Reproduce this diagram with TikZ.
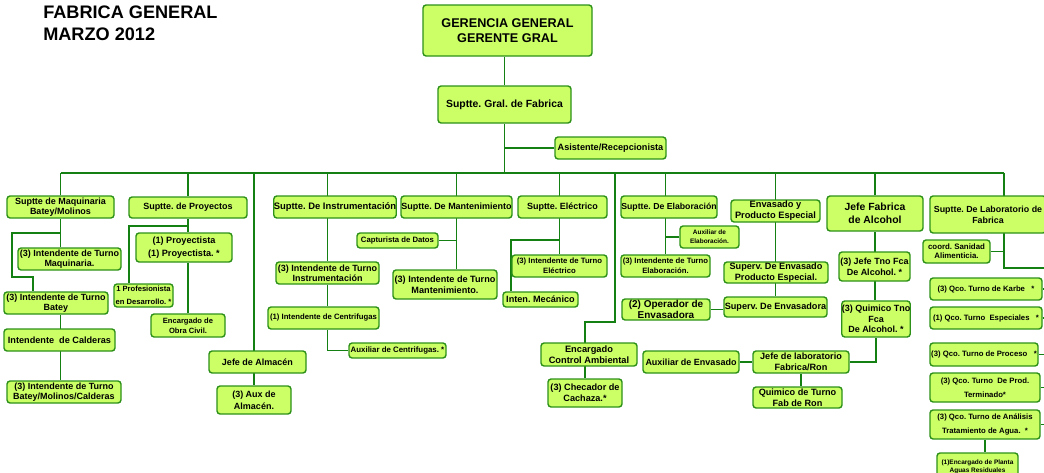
\documentclass[tikz,border=0pt]{standalone}
\usepackage{fontspec}
\setmainfont{Liberation Sans}
\usetikzlibrary{backgrounds}
\frenchspacing

\definecolor{cajafondo}{RGB}{204,255,102}
\definecolor{cajaborde}{RGB}{45,145,25}
\definecolor{linea}{RGB}{20,128,20}

\tikzset{
  puesto/.style={draw=cajaborde, fill=cajafondo, line width=1pt, rounded corners=2.2pt,
    align=center, inner sep=0pt, text=black, font=\bfseries\fontsize{6.4}{7.4}\selectfont},
  tam/.style 2 args={minimum width=#1*0.25mm, minimum height=#2*0.25mm},
  letra/.style 2 args={font=\bfseries\fontsize{#1}{#2}\selectfont},
  enlace/.style={draw=linea, line width=1.4pt},
}

\begin{document}
\begin{tikzpicture}[x=0.25mm, y=-0.25mm]
  \useasboundingbox (0,0) rectangle (1044,473);
  \clip (0,0) rectangle (1044,473);

  \node[anchor=north west, align=left, inner sep=0pt,
        font=\bfseries\fontsize{12.9}{15.6}\selectfont] (titulo) at (43,6) {FABRICA GENERAL\\MARZO 2012};

  \node[puesto, tam={169}{51}, letra={9}{10.7}] (gg) at (507.5,30.5) {GERENCIA GENERAL\\GERENTE GRAL};
  \node[puesto, tam={133}{37}, letra={7.4}{9}] (sgf) at (504.5,104.5) {Suptte. Gral. de Fabrica};
  \node[puesto, tam={111}{22}, letra={6.5}{7.4}] (asis) at (610.5,148) {Asistente/Recepcionista};

  % jefaturas
  \node[puesto, tam={107}{22}] (sm) at (60.5,207) {Suptte de Maquinaria\\Batey/Molinos};
  \node[puesto, tam={118}{21}] (sp) at (188,207.5) {Suptte. de Proyectos};
  \node[puesto, tam={118}{22}, letra={6.7}{7.4}] (si) at (335,207) {Suptte. De Instrumentación};
  \node[puesto, tam={111}{22}] (smt) at (456.5,207) {Suptte. De Mantenimiento};
  \node[puesto, tam={89}{22}] (se) at (562.5,207) {Suptte. Eléctrico};
  \node[puesto, tam={96}{22}, letra={6.2}{7.4}] (sel) at (669,207) {Suptte. De Elaboración};
  \node[puesto, tam={89}{22}, letra={6.6}{7.8}] (env) at (775.5,211) {Envasado y\\Producto Especial};
  \node[puesto, tam={96}{35}, letra={7.4}{9}] (jfa) at (875,213.5) {Jefe Fabrica\\de Alcohol};
  \node[puesto, tam={116}{37}, letra={6.3}{7.6}] (sl) at (988,214.5) {Suptte. De Laboratorio de\\Fabrica};

  % maquinaria
  \node[puesto, tam={103}{22}] (itq) at (69.5,259) {(3) Intendente de Turno\\Maquinaria.};
  \node[puesto, tam={104}{22}] (itb) at (56,303) {(3) Intendente de Turno\\Batey};
  \node[puesto, tam={111}{22}, letra={6.5}{7.4}] (cald) at (59.5,340) {Intendente~~de Calderas};
  \node[puesto, tam={114}{22}] (itbmc) at (64,392) {(3) Intendente de Turno\\Batey/Molinos/Calderas};

  % proyectos y almacen
  \node[puesto, tam={96}{29}, letra={6.5}{9}] (pry) at (184,247.5) {(1) Proyectista\\(1) Proyectista.~*};
  \node[puesto, tam={59}{23}, letra={5.4}{9}] (prof) at (143.5,295.5) {1 Profesionista\\en Desarrollo.~*};
  \node[puesto, tam={74}{23}, letra={5.4}{6.9}] (obra) at (188,325.5) {Encargado de\\Obra Civil.};
  \node[puesto, tam={97}{22}] (ja) at (257.5,362) {Jefe de Almacén};
  \node[puesto, tam={74}{28}, letra={6.4}{8.3}] (aux) at (254,400) {(3) Aux de\\Almacén.};

  % instrumentacion y mantenimiento
  \node[puesto, tam={103}{22}] (iti) at (327.5,273) {(3) Intendente de Turno\\Instrumentación};
  \node[puesto, tam={111}{22}, letra={5.5}{7}] (cen) at (323.5,318) {(1) Intendente de Centrifugas};
  \node[puesto, tam={97}{15}, letra={5.6}{7}] (auxc) at (397.5,350.5) {Auxiliar de Centrifugas.~*};
  \node[puesto, tam={81}{15}, letra={5.5}{7}] (capt) at (397.5,240.5) {Capturista de Datos};
  \node[puesto, tam={104}{29}, letra={6.5}{8}] (itmt) at (445,284.5) {(3) Intendente de Turno\\Mantenimiento.};

  % electrico y ambiental
  \node[puesto, tam={95}{22}, letra={5.5}{6.9}] (ite) at (559.5,266) {(3) Intendente de Turno\\Eléctrico};
  \node[puesto, tam={75}{15}, letra={6.5}{7.4}] (mec) at (540.5,299.5) {Inten. Mecánico};
  \node[puesto, tam={96}{23}, letra={6.6}{7.6}] (eca) at (589,354.5) {Encargado\\Control Ambiental};
  \node[puesto, tam={74}{28}, letra={6.5}{7.6}] (chec) at (585,393) {(3) Checador de\\Cachaza.*};

  % elaboracion y envasado
  \node[puesto, tam={89}{22}, letra={5.5}{6.9}] (itel) at (665.5,266) {(3) Intendente de Turno\\Elaboración.};
  \node[puesto, tam={59}{22}, letra={4.6}{6.4}] (auxel) at (709.5,237) {Auxiliar de\\Elaboración.};
  \node[puesto, tam={104}{21}, letra={6.5}{7.6}] (sve) at (776,272.5) {Superv. De Envasado\\Producto Especial.};
  \node[puesto, tam={103}{20}, letra={6.5}{7.6}] (svd) at (775.5,307) {Superv. De Envasadora};
  \node[puesto, tam={88}{21}, letra={7.1}{7.8}] (opd) at (666,309.5) {(2) Operador de\\Envasadora};
  \node[puesto, tam={96}{22}] (auxe) at (691,362) {Auxiliar de Envasado};
  \node[puesto, tam={96}{22}, letra={6.5}{7.6}] (jlab) at (801,362) {Jefe de laboratorio\\Fabrica/Ron};
  \node[puesto, tam={89}{21}, letra={6.5}{7.6}] (qtr) at (797.5,397.5) {Quimico de Turno\\Fab de Ron};

  % alcohol
  \node[puesto, tam={71}{29}, letra={6.4}{8}] (jtf) at (874.5,266.5) {(3) Jefe Tno Fca\\De Alcohol.~*};
  \node[puesto, tam={68}{36}, letra={6.4}{7.5}] (qta) at (876,319) {(3) Quimico Tno\\Fca\\De Alcohol.~*};

  % laboratorio
  \node[puesto, tam={67}{23}, letra={5.6}{6.2}] (san) at (956.5,251.5) {coord. Sanidad\\Alimenticia.};
  \node[puesto, tam={112}{22}, letra={5.5}{7}] (kar) at (986,289) {(3) Qco. Turno de Karbe~~~*};
  \node[puesto, tam={112}{22}, letra={5.5}{7}] (esp) at (986,318) {(1) Qco. Turno~~Especiales~~~*};
  \node[puesto, tam={108}{23}, letra={5.5}{7}] (pro) at (984,354.5) {(3) Qco. Turno de Proceso~~~*};
  \node[puesto, tam={110}{29}, letra={5.5}{9.7}] (term) at (985,387.5) {(3) Qco. Turno~~De Prod.\\Terminado*};
  \node[puesto, tam={110}{29}, letra={5.5}{9.7}] (an) at (985,424.5) {(3) Qco. Turno de Análisis\\Tratamiento de Agua.~~*};
  \node[puesto, tam={81}{27}, letra={4.6}{5.5}] (ear) at (977.5,466.5) {(1)Encargado de Planta\\Aguas Residuales};

  \begin{scope}[on background layer]
    \clip (0,0) rectangle (1044,473);
    \coordinate (bus) at (0,173);
    \coordinate (mq1) at (12,233);
    \coordinate (mq2) at (33,277);
    \coordinate (pj) at (129,226);
    \coordinate (ej) at (511,240);
    \coordinate (cj) at (615,322);
    \coordinate (lj) at (1004,268);
    \coordinate (rail) at (1047,268);

    \draw[enlace] (sgf.north) -- (sgf.north |- gg.south);
    \draw[enlace] (sgf.south) -- (sgf.south |- bus);
    \draw[enlace] (asis.west) -- (asis.west -| sgf.south);
    \draw[enlace] (sm.north |- bus) -- (lj |- bus);
    \foreach \n in {sm,sp,jfa}
      \draw[enlace] (\n.north) -- (\n.north |- bus);

    \draw[enlace] (sm.south) -- (sm.south |- itq.north);
    \draw[enlace] (sm.south |- mq1) -- (mq1) |- (mq2) -- (mq2 |- itb.north);
    \draw[enlace] (sm.south |- itb.south) -- (sm.south |- itbmc.north);

    \draw[enlace] (sp.south) -- (sp.south |- pry.north);
    \draw[enlace] (sp.south |- pj) -- (pj) -- (pj |- prof.north);
    \draw[enlace] (sp.south |- pry.south) -- (sp.south |- obra.north);
    \draw[enlace] (aux.north |- bus) -- (aux.north);

    \draw[enlace] (iti.north |- bus) -- (iti.north);
    \draw[enlace] (iti.south) -- (iti.south |- cen.north);
    \draw[enlace] (iti.south |- cen.south) |- (auxc.west);
    \draw[enlace] (smt.north |- bus) -- (smt.north |- itmt.north);
    \draw[enlace] (capt.east) -- (capt.east -| smt.north);

    \draw[enlace] (ite.north |- bus) -- (ite.north);
    \draw[enlace] (ite.north |- ej) -- (ej) -- (ej |- mec.north);
    \draw[enlace] (cj |- bus) -- (cj) -| (chec.north);

    \draw[enlace] (itel.north |- bus) -- (itel.north);
    \draw[enlace] (auxel.west) -- (auxel.west -| itel.north);
    \draw[enlace] (svd.north |- bus) -- (svd.north);
    \draw[enlace] (opd.east) -- (opd.east -| svd.west);
    \draw[enlace] (auxe.east) -- (jlab.west);
    \draw[enlace] (jlab.south) -- (jlab.south |- qtr.north);
    \draw[enlace] (qta.south) |- (jlab.east);
    \draw[enlace] (jfa.south) -- (jfa.south |- qta.north);

    \draw[enlace] (lj |- bus) -- (lj) -- (rail);
    \draw[enlace] (rail) -- (rail |- an.east);
    \foreach \n in {kar,esp,pro,term,an}
      \draw[enlace] (\n.east) -- (\n.east -| rail);
    \draw[enlace] (san.east) -- (san.east -| lj);
    \draw[enlace] (an.south) -- (an.south |- ear.north);
  \end{scope}
\end{tikzpicture}
\end{document}
